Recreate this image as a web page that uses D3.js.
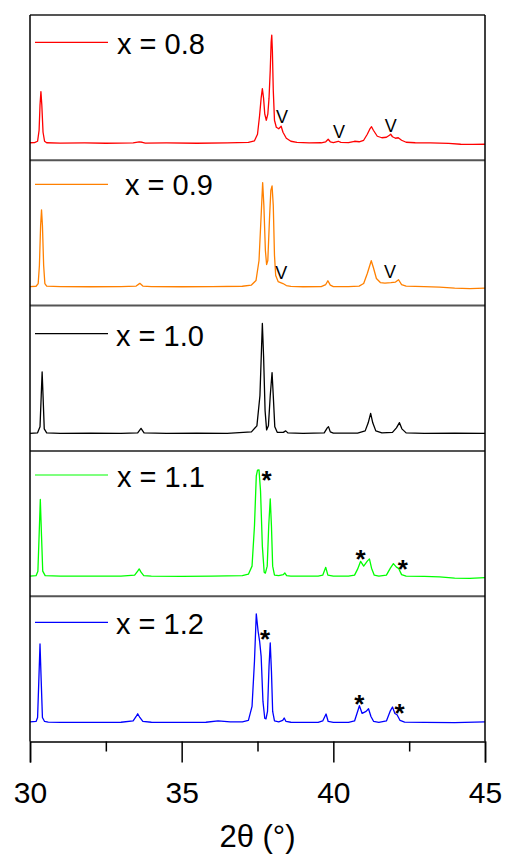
<!DOCTYPE html>
<html>
<head>
<meta charset="utf-8">
<script src="https://cdn.jsdelivr.net/npm/d3@7"></script>
<style>
  html, body { margin: 0; padding: 0; background: #fff; }
  svg { display: block; }
  text { font-family: "Liberation Sans", Arial, sans-serif; }
</style>
</head>
<body>
<svg id="chart" width="507" height="854"></svg>
<script>
// XRD patterns, 2θ (°) vs intensity (arbitrary units), one panel per composition
const compositions = ["x = 0.8", "x = 0.9", "x = 1.0", "x = 1.1", "x = 1.2"];
const colors = ["#ff0000", "#ff8000", "#000000", "#00ff00", "#0000ff"];

const pattern08 = [
  [30.00,17.5],[30.15,17.6],[30.25,19],[30.30,30],[30.33,55],[30.36,68.5],[30.39,55],[30.43,28],[30.48,19],[30.55,17.5],
  [31.00,17.2],[31.80,17.3],[32.50,17.0],[33.40,17.3],[33.60,18.3],[33.70,18.0],[33.80,17.2],[34.50,17.3],[35.50,17.0],
  [36.50,17.4],[37.20,17.8],[37.40,19.5],[37.50,26],[37.57,45],[37.62,62],[37.66,71.5],[37.70,62],[37.74,46],[37.79,40],
  [37.84,46],[37.88,62],[37.92,90],[37.95,118],[37.97,125],[37.99,110],[38.02,70],[38.06,40],[38.12,33],[38.20,31.5],
  [38.28,34],[38.34,28],[38.45,22],[38.60,19],[38.80,17.8],[39.20,17.4],[39.60,17.5],[39.75,18.5],[39.83,21],[39.90,18.5],
  [40.00,17.6],[40.16,19],[40.25,17.8],[40.50,17.6],[40.70,19],[40.85,18.5],[41.00,20],[41.12,26],[41.20,31],[41.26,33.5],
  [41.32,30],[41.45,24],[41.60,22.5],[41.75,23],[41.85,25],[41.89,26],[41.95,23.5],[42.05,22],[42.14,22.5],[42.25,20],
  [42.40,18],[42.70,17.5],[43.20,17.3],[43.80,16.8],[44.20,16.0],[44.60,15.8],[45.00,16.0]
];
const pattern09 = [
  [30.00,19],[30.20,19.3],[30.27,22],[30.31,40],[30.35,80],[30.38,95.5],[30.41,80],[30.45,40],[30.49,22],[30.55,19.5],
  [31.00,19],[32.00,18.8],[33.00,19],[33.50,19.5],[33.62,22.2],[33.72,19.5],[34.00,19],[35.00,18.8],[36.00,19.0],
  [37.00,19.3],[37.30,20.5],[37.45,25],[37.55,45],[37.62,90],[37.67,122.8],[37.71,100],[37.76,55],[37.80,41],[37.84,45],
  [37.90,90],[37.94,115],[37.98,119.5],[38.02,100],[38.06,50],[38.10,30],[38.18,24],[38.34,22],[38.45,20],[38.60,19.2],
  [39.00,18.8],[39.60,19],[39.75,21],[39.82,24.8],[39.90,20.5],[40.00,19],[40.50,19],[40.85,19.5],[41.00,22],[41.12,32],
  [41.25,44.8],[41.32,38],[41.42,27],[41.55,23],[41.70,22.5],[41.90,23],[42.05,23.5],[42.15,25.8],[42.25,21],[42.40,19.5],
  [43.00,19],[43.50,18.5],[44.00,17.5],[44.50,17],[45.00,17.5]
];
const pattern10 = [
  [30.00,17.5],[30.25,18],[30.33,24],[30.37,55],[30.40,78.8],[30.43,55],[30.47,22],[30.55,18],[31.00,17.5],[32.00,17.6],
  [33.00,17.4],[33.55,18],[33.66,22.5],[33.76,18],[34.50,17.5],[35.50,17.6],[36.50,17.5],[37.30,19],[37.48,25],[37.58,55],
  [37.63,100],[37.66,127.2],[37.70,95],[37.75,40],[37.80,21],[37.86,25],[37.92,55],[37.98,78.2],[38.02,55],[38.07,24],
  [38.15,18.5],[38.35,18.5],[38.43,20],[38.50,18],[39.00,17.5],[39.70,18],[39.80,23],[39.84,24.2],[39.90,19],[40.00,17.8],
  [40.80,17.8],[41.05,20],[41.15,28],[41.23,37.5],[41.30,28],[41.40,20],[41.60,18],[41.95,18.5],[42.08,23],[42.18,28.2],
  [42.26,22],[42.40,18],[43.00,17.5],[44.00,17.6],[45.00,17.5]
];
const pattern11 = [
  [30.00,20],[30.20,20.5],[30.26,25],[30.30,60],[30.34,96.5],[30.38,60],[30.42,25],[30.50,20.5],[31.00,20],[32.00,20],
  [33.00,20],[33.45,21],[33.55,25],[33.60,27.2],[33.66,24],[33.75,20.5],[34.00,20],[35.00,19.8],[36.00,20],[37.00,20.5],
  [37.20,22],[37.32,30],[37.40,70],[37.46,120],[37.50,125.8],[37.55,126],[37.60,105],[37.66,50],[37.72,24],[37.76,23],
  [37.82,30],[37.87,70],[37.92,97.2],[37.96,70],[38.00,30],[38.06,21],[38.20,20.5],[38.35,21.5],[38.40,23.2],[38.46,20.5],
  [38.60,20],[39.50,20],[39.65,21],[39.75,28.8],[39.82,21],[40.00,20],[40.50,20],[40.70,21],[40.80,27],[40.90,34.8],
  [41.00,30],[41.12,35],[41.19,37.2],[41.26,28],[41.35,21],[41.50,20],[41.75,21],[41.88,28],[41.98,32.5],[42.08,29],
  [42.15,27.8],[42.25,21.5],[42.40,20],[43.00,19.8],[43.50,19.3],[44.00,18],[44.50,17.8],[45.00,18.5]
];
const pattern12 = [
  [30.00,19.5],[30.20,20],[30.25,24],[30.29,60],[30.33,97.4],[30.37,60],[30.41,24],[30.48,20],[30.60,19.3],[31.00,19],
  [32.00,19],[33.00,19.2],[33.40,20.5],[33.50,25],[33.55,27.7],[33.62,24],[33.72,20],[34.00,19.2],[35.00,19],[35.80,19.2],
  [36.20,20.5],[36.60,19.5],[37.00,19.5],[37.20,21],[37.32,35],[37.40,80],[37.46,127.4],[37.52,110],[37.57,100],[37.62,85],
  [37.68,40],[37.74,23],[37.78,22.7],[37.83,30],[37.88,75],[37.92,98.4],[37.96,70],[38.00,30],[38.06,20.5],[38.20,19.5],
  [38.33,21],[38.38,23.4],[38.44,20],[38.60,19.2],[39.50,19],[39.65,20.5],[39.76,27.4],[39.83,20],[40.00,19],[40.50,19],
  [40.70,20.5],[40.80,30],[40.86,35.7],[40.95,28],[41.08,30],[41.16,32.7],[41.24,25],[41.33,20],[41.50,19],[41.75,20.5],
  [41.87,30],[41.95,34.4],[42.03,28],[42.10,26.7],[42.20,21],[42.35,19.3],[43.00,19],[44.00,18.8],[45.00,19.5]
];
const patterns = [pattern08, pattern09, pattern10, pattern11, pattern12];

// Reflection markers: [panel index, 2θ, intensity, symbol]
const markers = [
  [0, 38.31, 43.3, "V"], [0, 40.19, 28.7, "V"], [0, 41.89, 34.7, "V"],
  [1, 38.28, 33.1, "V"], [1, 41.87, 33.6, "V"],
  [3, 37.80, 120.4, "*"], [3, 40.90, 40.9, "*"], [3, 42.29, 30.9, "*"],
  [4, 37.75, 106.2, "*"], [4, 40.86, 41.9, "*"], [4, 42.18, 32.2, "*"]
];

const xTicks = [30, 35, 40, 45];
const xMinorTicks = [32.5, 37.5, 42.5];
const xTitle = "2θ (°)";

// ---- layout ----
const plotLeft = 30, plotRight = 485, plotTop = 15, panelH = 145.3;
const legendLayout = [   // [line y, text baseline, text x] relative to panel top
  [27.3, 38.5, 117], [24.0, 35.0, 125], [28.1, 40.8, 116], [24.1, 36.0, 117], [26.1, 38.2, 116]
];

const svg = d3.select("#chart");
const x = d3.scaleLinear().domain([30, 45]).range([plotLeft, plotRight]);
const line = d3.line().x(d => x(d[0]));

compositions.forEach((name, i) => {
  const y0 = plotTop + i * panelH;
  const y = d3.scaleLinear().domain([0, 145]).range([y0 + panelH, y0]);
  const g = svg.append("g");

  g.append("path")
    .datum(patterns[i])
    .attr("fill", "none")
    .attr("stroke", colors[i])
    .attr("stroke-width", 1.3)
    .attr("stroke-linejoin", "round")
    .attr("d", line.y(d => y(d[1])));

  const lg = legendLayout[i];
  g.append("line")
    .attr("x1", 35).attr("x2", 108)
    .attr("y1", y0 + lg[0]).attr("y2", y0 + lg[0])
    .attr("stroke", colors[i]).attr("stroke-width", 1.2);
  g.append("text")
    .attr("x", lg[2]).attr("y", y0 + lg[1])
    .attr("font-size", 29)
    .attr("fill", "#000")
    .text(name);

  markers.filter(m => m[0] === i).forEach(m => {
    const star = m[3] === "*";
    g.append("text")
      .attr("x", x(m[1]))
      .attr("y", y(m[2]) + (star ? 13 : 6.5))
      .attr("text-anchor", "middle")
      .attr("font-size", star ? 26 : 18)
      .attr("font-weight", star ? "bold" : "normal")
      .attr("fill", "#000")
      .text(m[3]);
  });
});

// panel frames: gray horizontal rules, black side borders
const plotBottom = plotTop + compositions.length * panelH;
d3.range(compositions.length).forEach(i => {
  svg.append("line")
    .attr("x1", plotLeft).attr("x2", plotRight)
    .attr("y1", plotTop + i * panelH).attr("y2", plotTop + i * panelH)
    .attr("stroke", "#555").attr("stroke-width", 2);
});
[plotLeft, plotRight].forEach(px => {
  svg.append("line")
    .attr("x1", px).attr("x2", px)
    .attr("y1", plotTop).attr("y2", plotBottom)
    .attr("stroke", "#000").attr("stroke-width", 1.5);
});

// bottom axis with major and minor ticks
const axis = svg.append("g")
  .attr("transform", `translate(0,${plotBottom})`)
  .call(d3.axisBottom(x).tickValues(xTicks).tickSize(21).tickPadding(19).tickFormat(d3.format("d")));
axis.select(".domain").attr("stroke", "#000").attr("stroke-width", 1.5);
axis.selectAll(".tick line").attr("stroke", "#000").attr("stroke-width", 1.5);
axis.selectAll(".tick text")
  .attr("font-size", 30)
  .attr("font-family", "Liberation Sans, Arial, sans-serif")
  .attr("fill", "#000");

svg.append("g")
  .attr("transform", `translate(0,${plotBottom})`)
  .call(d3.axisBottom(x).tickValues(xMinorTicks).tickSize(10).tickFormat(""))
  .call(a => a.select(".domain").remove())
  .selectAll(".tick line").attr("stroke", "#000").attr("stroke-width", 1.5);

svg.append("text")
  .attr("x", (plotLeft + plotRight) / 2)
  .attr("y", 847)
  .attr("text-anchor", "middle")
  .attr("font-size", 31)
  .attr("fill", "#000")
  .text(xTitle);
</script>
</body>
</html>
